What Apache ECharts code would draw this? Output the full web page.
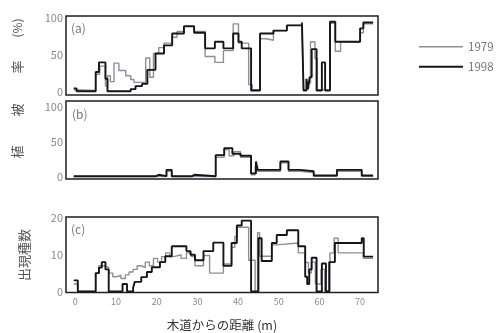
<!DOCTYPE html>
<html>
<head>
<meta charset="utf-8">
<script src="https://cdn.jsdelivr.net/npm/echarts@6.0.0/dist/echarts.min.js"></script>
<style>
  html, body { margin: 0; padding: 0; background: #fff; }
  #chart { width: 496px; height: 333px; }
</style>
</head>
<body>
<div id="chart"></div>
<script>
// [distance from boardwalk (m), value] breakpoints, each value holds until the next distance
const END_DIST = 73.2;

const cover1998 = [[-0.4,5],[0.3,1],[5,27],[5.8,40],[7.4,18],[7.9,1],[13.6,4],[14.8,8],[16.4,11],[17.7,30],
  [19.7,52],[21.8,63],[23.8,79],[26.7,89],[29.2,80],[31.9,59],[34.3,68],[36.4,59],[38.8,79],[40.1,68],
  [40.9,59],[43.2,2],[45.4,79],[48.7,83],[52,90],[55.7,94],[56.1,2],[56.8,18],[57.2,4],[57.6,20],
  [58.1,58],[59.3,2],[60.6,40],[61.4,2],[62.6,95],[63.9,68],[70,86],[70.8,94]];
const cover1979 = [[-0.4,3],[0.3,2],[5,24],[6,35],[7.4,8],[7.9,22],[8.6,14],[9.5,39],[10.7,29],[12.4,22],
  [13.6,17],[14.4,13],[17.3,46],[18.3,20],[19.2,52],[20.5,60],[21.8,66],[23.8,74],[25,82],[26.7,88],
  [29.2,82],[31.9,48],[34.3,40],[36.4,56],[38.8,92],[40.1,66],[42.6,10],[43.5,3],[45.4,72],[47,70],
  [48.7,83],[52,90],[55.7,92],[56.1,3],[57.1,12],[57.8,68],[58.9,45],[59.5,3],[62.6,93],[63.9,55],
  [65.2,68],[70,80],[70.8,92]];

const shrub1998 = [[-0.4,1],[19.8,3],[20.5,1],[22.4,10],[23.7,1],[28.7,3],[29.3,1],[34.5,31],[36.6,41],
  [38.6,33],[40.6,30],[43.2,5],[44.4,22],[44.8,10],[50.4,22],[52.4,10],[55.2,8],[58.6,2],[64.3,10],[70.4,2]];
const shrub1979 = [[-0.4,0.5],[22.4,8],[23.7,0.5],[34.5,28],[36.6,39],[37.8,30],[39,36],[40.6,28],[43.2,3],
  [44.2,15],[44.8,8],[50.4,20],[52.4,8],[55.2,6],[58.6,1],[64.3,8],[70.4,1]];

const species1998 = [[-0.4,3],[0.6,0],[5,5],[5.8,6.5],[6.5,8],[7.4,6],[8.2,0],[11.6,2],[12.7,0],[14.2,1],
  [14.6,2.6],[16.2,3.9],[17.6,5.3],[18.8,6.6],[20.8,8],[22.1,9.6],[23.7,12.3],[27.3,11],[28.3,10],[29.4,8.5],
  [31.5,11],[33.9,13.3],[36.4,7],[38.4,13.2],[39.7,18],[40.9,19.3],[43.2,0],[45,14.5],[45.8,8.3],[48.3,13.2],
  [49.5,15.4],[52,16.7],[54.8,12.3],[56.5,4],[57,2],[57.5,6],[58.1,9.2],[59.3,0],[60.6,7.6],[61.6,0],
  [62.4,8],[63.8,13.2],[70.4,14.5],[70.9,9.5]];
const species1979 = [[-0.4,2],[0.6,0],[5,5],[5.8,7],[7.2,6.5],[8.2,5],[9.2,4],[10.2,4.4],[11.2,3.5],[12.3,4.5],
  [13.2,5.3],[14.2,6],[15.2,7],[16.2,6.5],[17.2,8],[18.2,7],[19.2,9],[20.2,8],[21.2,9.5],[22.2,10.5],
  [23.2,9.5],[24.2,10],[26,9],[27.3,10.5],[28.5,9.5],[29.4,7],[31.5,9.8],[33,5],[36.4,7.5],[38.4,12],
  [39.2,15],[39.8,17.5],[42.6,8.5],[44.2,0],[44.8,16],[45.3,9.6],[48.3,12.7],[49.5,13.2],[54.8,10.5],
  [56.5,7.9],[57.3,5],[58,8],[59,2],[60.4,6],[61.3,0],[62.6,10.5],[63.6,14.5],[64.6,10.5],[70.8,9]];

const distTicks = [0, 10, 20, 30, 40, 50, 60, 70];
const coverTicks = [0, 50, 100];
const speciesTicks = [0, 10, 20];

const FONT = '"Noto Sans CJK JP", "Noto Sans", sans-serif';
const C79 = '#8e8e9a';
const C98 = '#151515';

function withEnd(pairs) {
  return pairs.concat([[END_DIST, pairs[pairs.length - 1][1]]]);
}

const grids = [
  {left: 66, top: 16, width: 312, height: 79},
  {left: 66, top: 101, width: 312, height: 78},
  {left: 66, top: 217, width: 312, height: 78}
].map(g => Object.assign(g, {show: true, borderColor: '#1d1d2b', borderWidth: 1.5, backgroundColor: 'transparent'}));

const xAxes = [0, 1, 2].map(i => ({
  type: 'value', gridIndex: i, min: -2.3, max: 74.4,
  axisLine: {show: false}, axisTick: {show: false}, splitLine: {show: false},
  axisLabel: i === 2
    ? {customValues: distTicks, color: '#8a8a8a', fontSize: 9, margin: 5, fontFamily: FONT}
    : {show: false},
  name: i === 2 ? '木道からの距離 (m)' : '',
  nameLocation: 'middle', nameGap: 27,
  nameTextStyle: {color: '#333', fontSize: 12.5, fontFamily: FONT}
}));

function yAxis(i, min, max, ticks) {
  return {
    type: 'value', gridIndex: i, min: min, max: max,
    axisLine: {show: false}, axisTick: {show: false}, splitLine: {show: false},
    axisLabel: {customValues: ticks, color: '#8a8a8a', fontSize: 11, margin: 3, fontFamily: FONT}
  };
}

function line(name, idx, data, color, width, z) {
  return {
    name: name, type: 'line', xAxisIndex: idx, yAxisIndex: idx,
    step: 'end', symbol: 'none', z: z, animation: false,
    data: withEnd(data),
    lineStyle: {color: color, width: width},
    itemStyle: {color: color}
  };
}

function legendItem(name, top, thick) {
  return {
    data: [{name: name, icon: 'rect'}], left: 414, top: top,
    itemWidth: 44, itemHeight: thick, itemGap: 0,
    textStyle: {color: '#777', fontSize: 11.5, fontFamily: FONT}
  };
}

function vText(text, x, y, size) {
  return {
    type: 'text', x: x, y: y, rotation: Math.PI / 2,
    style: {text: text, fill: '#555', font: size + 'px ' + FONT, align: 'center', verticalAlign: 'middle'}
  };
}

function panelTag(text, x, y) {
  return {
    type: 'text', x: x, y: y,
    style: {text: text, fill: '#777', font: '12px ' + FONT, align: 'left', verticalAlign: 'middle'}
  };
}

const chart = echarts.init(document.getElementById('chart'), null, {renderer: 'canvas'});
chart.setOption({
  backgroundColor: '#fff',
  animation: false,
  grid: grids,
  xAxis: xAxes,
  yAxis: [
    yAxis(0, -4, 102.7, coverTicks),
    yAxis(1, -3, 108, coverTicks),
    yAxis(2, -0.3, 20.3, speciesTicks)
  ],
  legend: [
    legendItem('1979', 36, 1.5),
    legendItem('1998', 56, 2.2)
  ],
  graphic: [
    vText('植', 17, 152, 13),
    vText('被', 17, 110, 13),
    vText('率', 17, 67, 13),
    vText('(%)', 17, 28, 12),
    vText('出現種数', 24, 255, 13),
    panelTag('(a)', 71, 28),
    panelTag('(b)', 72, 114),
    panelTag('(c)', 71, 229)
  ],
  series: [
    line('1979', 0, cover1979, C79, 1.4, 2),
    line('1998', 0, cover1998, C98, 1.9, 3),
    line('1979', 1, shrub1979, C79, 1.4, 2),
    line('1998', 1, shrub1998, C98, 1.9, 3),
    line('1979', 2, species1979, C79, 1.4, 2),
    line('1998', 2, species1998, C98, 1.9, 3)
  ]
});
</script>
</body>
</html>
